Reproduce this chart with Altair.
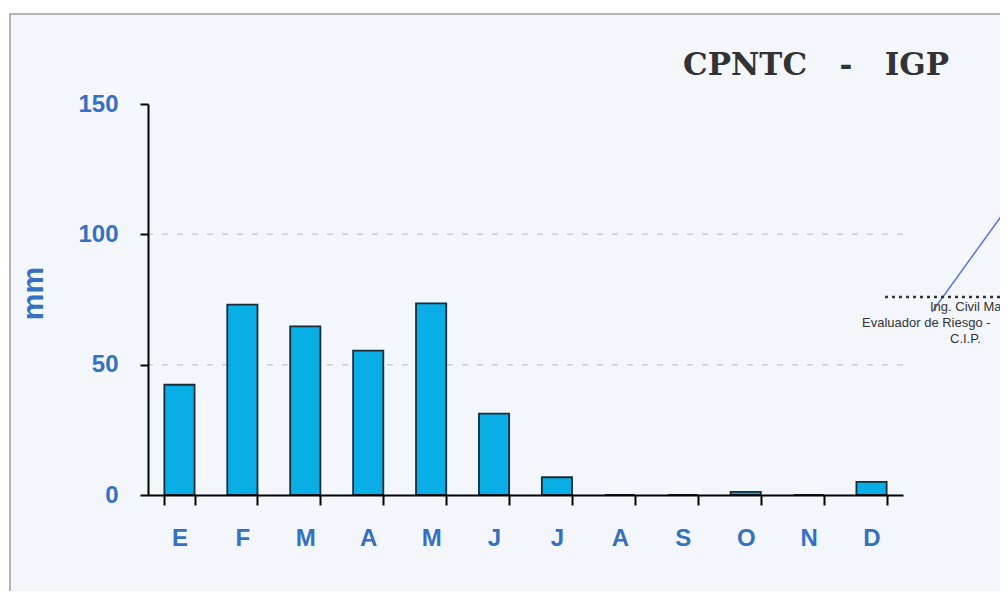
import altair as alt
import pandas as pd

months = ["Ene", "Feb", "Mar", "Abr", "May", "Jun", "Jul", "Ago", "Sep", "Oct", "Nov", "Dic"]
letters = ["E", "F", "M", "A", "M", "J", "J", "A", "S", "O", "N", "D"]
precip = [42.3, 73.0, 64.7, 55.4, 73.5, 31.2, 6.8, 0.0, 0.0, 1.2, 0.0, 5.0]
y_ticks = [0, 50, 100, 150]
grid_vals = [50, 100]

title_text = "CPNTC\u00a0\u00a0\u00a0-\u00a0\u00a0\u00a0IGP"
stamp_lines = ["Ing. Civil Man", "Evaluador de Riesgo -", "C.I.P."]

BLUE = "#3570c2"
BAR = "#0aaee6"

df = pd.DataFrame({"mes": months, "mm": precip})
grid_df = pd.DataFrame({"v": grid_vals})
one = pd.DataFrame({"k": [0]})

label_expr = "".join(f"datum.value === '{m}' ? '{l}' : " for m, l in zip(months, letters)) + "''"

y_scale = alt.Scale(domain=[0, 150])
y_axis = alt.Axis(
    values=y_ticks, title="mm", titleFontSize=30, titleColor=BLUE,
    titleFont="Liberation Sans", titleFontWeight="bold",
    titleX=-106, titleY=189, titleAngle=270, titleBaseline="alphabetic",
    labelFontSize=24, labelColor=BLUE, labelFont="Liberation Sans",
    labelFontWeight="bold", labelPadding=22, tickSize=8, tickColor="black",
    tickWidth=2, domainColor="black", domainWidth=2, grid=False, zindex=1,
)

frame = alt.Chart(one).mark_rect(fill="#f3f7fc", stroke="#a0a0a0", strokeWidth=1.5).encode(
    x=alt.value(-138), x2=alt.value(870), y=alt.value(-90), y2=alt.value(520)
)

grid = alt.Chart(grid_df).mark_rule(strokeDash=[6, 9], color="#c9cdd4", strokeWidth=1.5).encode(
    y=alt.Y("v:Q", scale=y_scale, axis=y_axis)
)

bars = alt.Chart(df).mark_bar(color=BAR, stroke="#1c2b3a", strokeWidth=1.8).encode(
    x=alt.X(
        "mes:N", sort=months,
        scale=alt.Scale(paddingInner=0.52, paddingOuter=0.26),
        axis=alt.Axis(
            title=None, labelExpr=label_expr, labelAngle=0, tickBand="extent",
            tickSize=10, tickWidth=2, tickColor="black", domainColor="black",
            domainWidth=2, labelFontSize=24, labelFont="Liberation Sans",
            labelFontWeight="bold", labelColor=BLUE, labelPadding=21, zindex=1,
        ),
    ),
    y=alt.Y("mm:Q", scale=y_scale, axis=y_axis),
)

title = alt.Chart(one).mark_text(
    text=title_text, font="DejaVu Serif", fontWeight="bold", fontSize=31,
    color="#333333", align="left", baseline="alphabetic",
).encode(x=alt.value(535), y=alt.value(-29))

sig = alt.Chart(one).mark_rule(color="#5a78d8", strokeWidth=1.5).encode(
    x=alt.value(784), y=alt.value(208), x2=alt.value(862), y2=alt.value(100)
)

dots = alt.Chart(one).mark_rule(color="#333333", strokeWidth=2.5, strokeDash=[3, 4]).encode(
    x=alt.value(737), x2=alt.value(862), y=alt.value(193)
)

stamp_pos = [(782, 207), (714, 223), (802, 239)]
stamps = [
    alt.Chart(one).mark_text(
        text=t, font="Liberation Sans", fontSize=13, color="#333333",
        align="left", baseline="alphabetic",
    ).encode(x=alt.value(px), y=alt.value(py))
    for t, (px, py) in zip(stamp_lines, stamp_pos)
]

chart = alt.layer(frame, grid, bars, title, sig, dots, *stamps).properties(
    width=755, height=391,
    autosize=alt.AutoSizeParams(type="none"),
    padding={"left": 140, "top": 96, "right": 97, "bottom": 96},
    background="white",
).configure_view(stroke=None)

chart.save("out.html", embed_options={"renderer": "svg", "actions": False})
